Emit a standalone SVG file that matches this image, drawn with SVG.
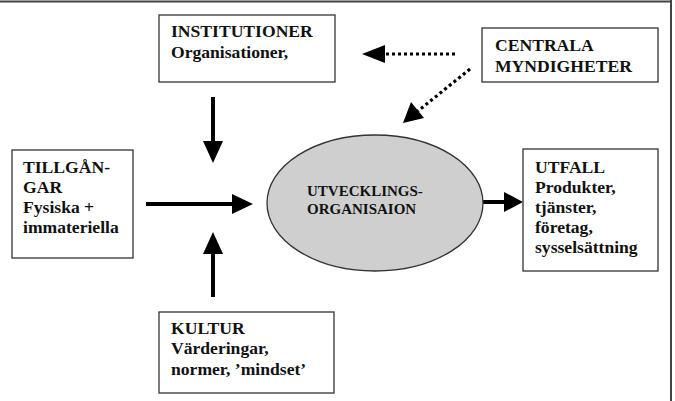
<svg xmlns="http://www.w3.org/2000/svg" width="675" height="401" viewBox="0 0 675 401">
<style>
.box{fill:#fff;stroke:#333;stroke-width:1.3}
.t{font-family:"Liberation Serif","Times New Roman",serif;font-weight:bold;font-size:17.6px;fill:#111}
.te{font-family:"Liberation Serif","Times New Roman",serif;font-weight:bold;font-size:15px;fill:#111}
.solid{stroke:#000;stroke-width:4;fill:none}
.dot{stroke:#000;stroke-width:3.2;fill:none;stroke-dasharray:3 3}
.head{fill:#000}
</style>
<rect width="675" height="401" fill="#fff"/>
<g id="frame">
<line x1="0" y1="1.5" x2="672" y2="1.5" stroke="#444" stroke-width="2"/>
<line x1="671" y1="0" x2="671" y2="401" stroke="#444" stroke-width="2"/>
</g>
<g id="connectors">
<line class="solid" x1="146" y1="204" x2="234" y2="204"/>
<polygon class="head" points="253,204 232,194 232,214"/>
<line class="solid" x1="213" y1="97" x2="213" y2="143"/>
<polygon class="head" points="213,163 203,141 223,141"/>
<line class="solid" x1="213" y1="297" x2="213" y2="252"/>
<polygon class="head" points="213,232 203,254 223,254"/>
<line class="solid" x1="483" y1="202" x2="506" y2="202"/>
<polygon class="head" points="523,202 504,192 504,212"/>
<line class="dot" x1="455" y1="54" x2="384" y2="54"/>
<polygon class="head" points="362,54 385,45 385,63"/>
<line class="dot" x1="470" y1="69" x2="418" y2="111"/>
<polygon class="head" points="403,123 411,102 424,118"/>
</g>
<g id="institutioner">
<rect class="box" x="159" y="15" width="176" height="67"/>
<text class="t" x="171" y="37">INSTITUTIONER</text>
<text class="t" x="171" y="58">Organisationer,</text>
</g>
<g id="centrala">
<rect class="box" x="482" y="28" width="176" height="54"/>
<text class="t" x="495" y="51">CENTRALA</text>
<text class="t" x="495" y="72">MYNDIGHETER</text>
</g>
<g id="tillgangar">
<rect class="box" x="12" y="150" width="121" height="108"/>
<text class="t" x="23" y="173">TILLGÅN-</text>
<text class="t" x="23" y="193">GAR</text>
<text class="t" x="23" y="213">Fysiska +</text>
<text class="t" x="23" y="233">immateriella</text>
</g>
<g id="utvecklingsorganisation">
<ellipse cx="375" cy="203" rx="108" ry="68" fill="#cfcfcf" stroke="#333" stroke-width="1.3"/>
<text class="te" x="307" y="196">UTVECKLINGS-</text>
<text class="te" x="307" y="214">ORGANISAION</text>
</g>
<g id="utfall">
<rect class="box" x="523" y="149" width="135" height="122"/>
<text class="t" x="535" y="173">UTFALL</text>
<text class="t" x="535" y="193">Produkter,</text>
<text class="t" x="535" y="213">tjänster,</text>
<text class="t" x="535" y="233">företag,</text>
<text class="t" x="535" y="253">sysselsättning</text>
</g>
<g id="kultur">
<rect class="box" x="159" y="312" width="175" height="81"/>
<text class="t" x="171" y="334">KULTUR</text>
<text class="t" x="171" y="354">Värderingar,</text>
<text class="t" x="171" y="375">normer, ’mindset’</text>
</g>
</svg>
